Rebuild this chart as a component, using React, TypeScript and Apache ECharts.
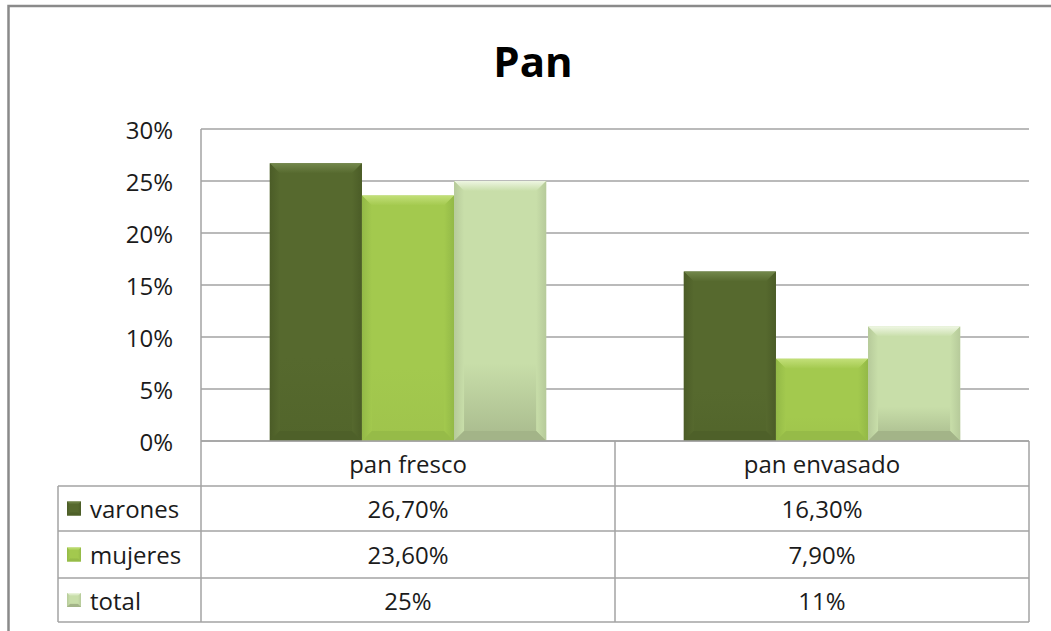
import React, { useEffect, useRef } from "react";
import * as echarts from "echarts";

// ---- data ----
const categories = ["pan fresco", "pan envasado"];
const seriesNames = ["varones", "mujeres", "total"];
const varones = [0.267, 0.163];
const mujeres = [0.236, 0.079];
const total = [0.25, 0.11];
const seriesDecimals = [2, 2, 0];
const yMin = 0;
const yMax = 0.3;
const yInterval = 0.05;
const titleText = "Pan";

const seriesValues = [varones, mujeres, total];

const palette = [
  { main: "#56692e", top: "#73884c", side: "#4b5c27", bottom: "#52652b", base: "#4e6029" },
  { main: "#a3c94e", top: "#c2df78", side: "#93b947", bottom: "#9fc44c", base: "#96bb48" },
  { main: "#c8dea9", top: "#eef6e2", side: "#b6ca9a", bottom: "#a8ba8d", base: "#a3b488" },
];

const FONT = "'Open Sans', 'Noto Sans', sans-serif";
const TEXT = "#1b1b1b";
const LINE = "#a3a3a3";

// layout
const W = 1051;
const H = 631;
const GRID_L = 201;
const GRID_R = 1029;
const GRID_T = 129;
const GRID_B = 441;
const TABLE_L = 58;
const ROW_Y = [441, 486, 531, 578, 622];

function fmt(v: number, d: number) {
  return (v * 100).toFixed(d).replace(".", ",") + "%";
}

function bevel(x0: number, yT: number, x1: number, yB: number, c: any, b: number) {
  const bb = Math.max(0, Math.min(b, (yB - yT) / 2, (x1 - x0) / 2));
  return [
    {
      type: "rect",
      shape: { x: x0, y: yT, width: x1 - x0, height: yB - yT },
      style: {
        fill: new echarts.graphic.LinearGradient(0, 0, 0, 1, [
          { offset: 0, color: c.main },
          { offset: 0.7, color: c.main },
          { offset: 1, color: c.bottom },
        ]),
      },
    },
    {
      type: "polygon",
      shape: { points: [[x0, yT], [x1, yT], [x1 - bb, yT + bb], [x0 + bb, yT + bb]] },
      style: {
        fill: new echarts.graphic.LinearGradient(0, 0, 0, 1, [
          { offset: 0, color: c.top },
          { offset: 1, color: c.main },
        ]),
      },
    },
    {
      type: "polygon",
      shape: { points: [[x0, yT], [x0 + bb, yT + bb], [x0 + bb, yB - bb], [x0, yB]] },
      style: {
        fill: new echarts.graphic.LinearGradient(0, 0, 1, 0, [
          { offset: 0, color: c.side },
          { offset: 1, color: c.main },
        ]),
      },
    },
    {
      type: "polygon",
      shape: { points: [[x1, yT], [x1 - bb, yT + bb], [x1 - bb, yB - bb], [x1, yB]] },
      style: {
        fill: new echarts.graphic.LinearGradient(1, 0, 0, 0, [
          { offset: 0, color: c.side },
          { offset: 1, color: c.main },
        ]),
      },
    },
    {
      type: "polygon",
      shape: { points: [[x0, yB], [x0 + bb, yB - bb], [x1 - bb, yB - bb], [x1, yB]] },
      style: { fill: c.base },
    },
  ];
}

export default function App() {
  const ref = useRef<HTMLDivElement>(null);

  useEffect(() => {
    document.body.style.margin = "0";
    if (!ref.current) return;
    const chart = echarts.init(ref.current, null, { renderer: "svg" });

    const barFrac = 0.2225;

    const series = seriesValues.map((vals, si) => ({
      type: "custom",
      name: seriesNames[si],
      coordinateSystem: "cartesian2d",
      data: vals.map((v, i) => [i, v]),
      encode: { x: 0, y: 1 },
      renderItem: (params: any, api: any) => {
        const c = api.value(0);
        const v = api.value(1);
        const p0 = api.coord([c, 0]);
        const p1 = api.coord([c, v]);
        const band = api.size([1, 0])[0];
        const bw = band * barFrac;
        const x0 = p0[0] - 1.5 * bw + si * bw;
        const x1 = x0 + bw;
        return {
          type: "group",
          children: bevel(x0, p1[1], x1, p0[1], palette[si], 10),
        };
      },
      z: 3,
    }));

    // data table graphics
    const g: any[] = [];
    const colW = (GRID_R - GRID_L) / categories.length;
    const lineStyle = { stroke: LINE, lineWidth: 1.5 };
    g.push({ type: "line", shape: { x1: GRID_L, y1: ROW_Y[0], x2: GRID_R, y2: ROW_Y[0] }, style: lineStyle, z: 5 });
    for (let r = 1; r < ROW_Y.length; r++) {
      g.push({ type: "line", shape: { x1: TABLE_L, y1: ROW_Y[r], x2: GRID_R, y2: ROW_Y[r] }, style: lineStyle });
    }
    g.push({ type: "line", shape: { x1: TABLE_L, y1: ROW_Y[1], x2: TABLE_L, y2: ROW_Y[4] }, style: lineStyle });
    g.push({ type: "line", shape: { x1: GRID_L, y1: GRID_T, x2: GRID_L, y2: ROW_Y[4] }, style: lineStyle, z: 5 });
    for (let i = 1; i <= categories.length; i++) {
      const x = GRID_L + colW * i;
      g.push({ type: "line", shape: { x1: x, y1: ROW_Y[0], x2: x, y2: ROW_Y[4] }, style: lineStyle });
    }
    categories.forEach((cat, i) => {
      g.push({
        type: "text",
        x: GRID_L + colW * (i + 0.5),
        y: (ROW_Y[0] + ROW_Y[1]) / 2,
        style: { text: cat, font: `24px ${FONT}`, fill: TEXT, textAlign: "center", textVerticalAlign: "middle" },
      });
    });
    seriesNames.forEach((name, si) => {
      const yc = (ROW_Y[si + 1] + ROW_Y[si + 2]) / 2;
      const k = 14;
      g.push({
        type: "group",
        children: bevel(67, yc - k / 2, 67 + k, yc + k / 2, palette[si], 3),
      });
      g.push({
        type: "text",
        x: 90,
        y: yc,
        style: { text: name, font: `24px ${FONT}`, fill: TEXT, textAlign: "left", textVerticalAlign: "middle" },
      });
      seriesValues[si].forEach((v, ci) => {
        g.push({
          type: "text",
          x: GRID_L + colW * (ci + 0.5),
          y: yc,
          style: {
            text: fmt(v, seriesDecimals[si]),
            font: `24px ${FONT}`,
            fill: TEXT,
            textAlign: "center",
            textVerticalAlign: "middle",
          },
        });
      });
    });
    g.push({
      type: "polyline",
      shape: { points: [[8.5, H + 5], [8.5, 6], [W + 5, 6]] },
      style: { stroke: "#8a8a8a", lineWidth: 2.5, fill: "none" },
    });
    g.push({
      type: "text",
      x: 533,
      y: 60,
      style: {
        text: titleText,
        font: `bold 42px ${FONT}`,
        fill: "#000",
        textAlign: "center",
        textVerticalAlign: "middle",
      },
    });

    chart.setOption({
      animation: false,
      backgroundColor: "#ffffff",
      grid: { left: GRID_L, right: W - GRID_R, top: GRID_T, bottom: H - GRID_B, containLabel: false },
      xAxis: {
        type: "category",
        data: categories,
        axisLine: { show: false },
        axisTick: { show: false },
        axisLabel: { show: false },
        splitLine: { show: false },
      },
      yAxis: {
        type: "value",
        min: yMin,
        max: yMax,
        interval: yInterval,
        axisLine: { show: false },
        axisTick: { show: false },
        axisLabel: {
          margin: 28,
          color: TEXT,
          fontFamily: FONT,
          fontSize: 24,
          formatter: (v: number) => Math.round(v * 100) + "%",
        },
        splitLine: { show: true, lineStyle: { color: LINE, width: 1.5 } },
      },
      series,
      graphic: g,
    });

    return () => chart.dispose();
  }, []);

  return <div ref={ref} style={{ width: W, height: H }} />;
}
